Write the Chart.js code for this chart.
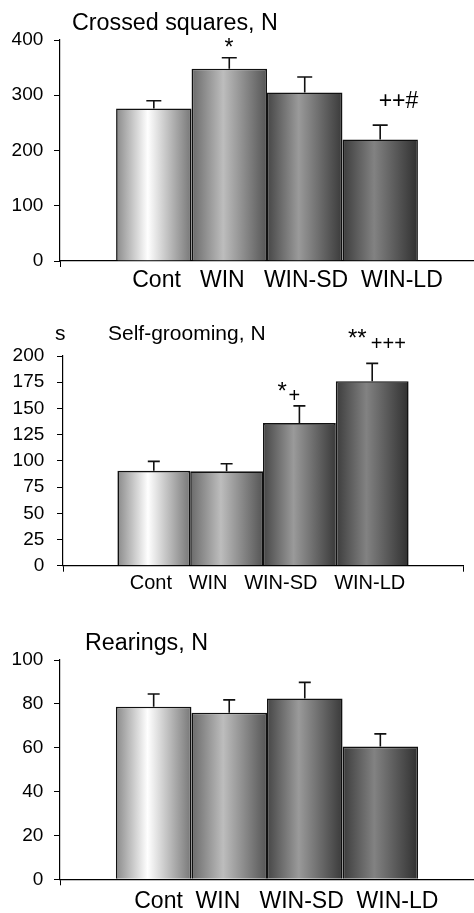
<!DOCTYPE html>
<html>
<head>
<meta charset="utf-8">
<script src="https://cdn.jsdelivr.net/npm/chart.js@4.4.1/dist/chart.umd.min.js"></script>
<style>
  html, body { margin: 0; padding: 0; background: #fff; }
  #wrap { position: relative; width: 474px; height: 913px; overflow: hidden; }
  canvas { position: absolute; left: 0; }
</style>
</head>
<body>
<div id="wrap">
  <canvas id="c1" width="474" height="300" style="top:0px"></canvas>
  <canvas id="c2" width="474" height="310" style="top:300px"></canvas>
  <canvas id="c3" width="474" height="303" style="top:610px"></canvas>
</div>
<script>
var FONT = '"Liberation Sans", Arial, Helvetica, sans-serif';

var groups = ['Cont', 'WIN', 'WIN-SD', 'WIN-LD'];

// crossed squares
var squaresMean = [276, 348, 305, 220];
var squaresErr = [14, 20, 28, 26];
var squaresStars = ['', '*', '', ''];
var squaresPlus = ['', '', '', '++#'];

// self-grooming
var groomMean = [90.5, 90, 136, 176];
var groomErr = [9, 7.3, 16.4, 17];
var groomStars = ['', '', '*', '**'];
var groomPlus = ['', '', '+', '+++'];

// rearings
var rearMean = [78.7, 76, 82.5, 60.5];
var rearErr = [5.8, 5.8, 7.3, 5.8];
var rearStars = ['', '', '', ''];
var rearPlus = ['', '', '', ''];

// left edge, highlight, right edge of each bar's shading
var shades = [
    ['#8a8a8a', '#ffffff', '#777777'],
    ['#6a6a6a', '#bdbdbd', '#555555'],
    ['#464646', '#9a9a9a', '#3a3a3a'],
    ['#3c3c3c', '#828282', '#303030']
];

var panels = [
    {
        id: 'c1', h: 300, title: 'Crossed squares, N', titleX: 72, titleY: 29.5, titleSize: 23.3,
        mean: squaresMean, err: squaresErr, stars: squaresStars, plus: squaresPlus,
        max: 400, step: 100, area: { left: 60, top: 40, right: 474, bottom: 261 }, cp: 0.729,
        yFont: 19, yPad: 10.7, xFont: 23, xPad: 0, xShift: 20.5, gaps: [3, 3, 2],
        cap: 15, starSize: 23, plusSize: 23,
        marks: [null, [-4.8, -3.0, 0, 0], null, [-1.5, -16.9, 0, 0]]
    },
    {
        id: 'c2', h: 310, title: 'Self-grooming, N', titleX: 108, titleY: 40, titleSize: 21,
        unit: 's', unitX: 55,
        mean: groomMean, err: groomErr, stars: groomStars, plus: groomPlus,
        max: 200, step: 25, area: { left: 63, top: 56, right: 463, bottom: 265.7 }, cp: 0.728,
        yFont: 19, yPad: 12.7, xFont: 20, xPad: 0, xShift: 4.5, gaps: [3, 3, 3],
        cap: 12, starSize: 24, plusSize: 20,
        marks: [null, null, [-21.8, -7.1, 3.3, 1.5], [-24.3, -17.5, 4.3, 4.2]]
    },
    {
        id: 'c3', h: 303, title: 'Rearings, N', titleX: 85, titleY: 40, titleSize: 23.3,
        mean: rearMean, err: rearErr, stars: rearStars, plus: rearPlus,
        max: 100, step: 20, area: { left: 60, top: 50, right: 474, bottom: 269.3 }, cp: 0.730,
        yFont: 19, yPad: 10.7, xFont: 23, xPad: 2.2, xShift: 19.3, gaps: [2, 3, 2],
        cap: 12, starSize: 22, plusSize: 22,
        marks: [null, null, null, null]
    }
];

function makeDecor(p) {
    return {
        id: 'decor',
        beforeDatasetsDraw: function(chart) {
            var ctx = chart.ctx;
            chart.data.datasets.forEach(function(ds, i) {
                chart.getDatasetMeta(i).data.forEach(function(bar) {
                    var b = bar.getProps(['x', 'width'], true);
                    var g = ctx.createLinearGradient(b.x - b.width / 2, 0, b.x + b.width / 2, 0);
                    g.addColorStop(0, shades[i][0]);
                    g.addColorStop(0.42, shades[i][1]);
                    g.addColorStop(1, shades[i][2]);
                    bar.options.backgroundColor = g;
                });
            });
        },
        afterDatasetsDraw: function(chart) {
            var ctx = chart.ctx, y = chart.scales.y;
            ctx.save();
            ctx.strokeStyle = '#111';
            ctx.fillStyle = '#000';
            ctx.lineWidth = 1.6;
            p.err.forEach(function(e, i) {
                var bar = chart.getDatasetMeta(i).data[0];
                var top = y.getPixelForValue(p.mean[i] + e);
                ctx.beginPath();
                ctx.moveTo(bar.x, bar.y);
                ctx.lineTo(bar.x, top);
                ctx.moveTo(bar.x - p.cap / 2, top);
                ctx.lineTo(bar.x + p.cap / 2, top);
                ctx.stroke();

                var m = p.marks[i];
                if (!m) return;
                var x0 = bar.x + m[0], base = top + m[1], sw = 0;
                ctx.textAlign = 'left';
                ctx.textBaseline = 'alphabetic';
                if (p.stars[i]) {
                    ctx.font = p.starSize + 'px ' + FONT;
                    ctx.fillText(p.stars[i], x0, base);
                    sw = ctx.measureText(p.stars[i]).width + m[3];
                }
                if (p.plus[i]) {
                    ctx.font = p.plusSize + 'px ' + FONT;
                    ctx.fillText(p.plus[i], x0 + sw, base + m[2]);
                }
            });
            ctx.restore();
        },
        afterDraw: function(chart) {
            var ctx = chart.ctx;
            ctx.save();
            ctx.fillStyle = '#000';
            ctx.textAlign = 'left';
            ctx.textBaseline = 'alphabetic';
            ctx.font = p.titleSize + 'px ' + FONT;
            ctx.fillText(p.title, p.titleX, p.titleY);
            if (p.unit) ctx.fillText(p.unit, p.unitX, p.titleY);
            ctx.restore();
        }
    };
}

panels.forEach(function(p) {
    var label = groups.reduce(function(s, g, i) {
        return i ? s + ' '.repeat(p.gaps[i - 1]) + g : g;
    }, '');

    new Chart(document.getElementById(p.id), {
        type: 'bar',
        data: {
            labels: [label],
            datasets: groups.map(function(g, i) {
                return {
                    label: g,
                    data: [p.mean[i]],
                    backgroundColor: function() { return shades[i][1]; },
                    borderColor: '#111',
                    borderWidth: 1.6,
                    borderSkipped: 'bottom',
                    barPercentage: 1,
                    categoryPercentage: p.cp
                };
            })
        },
        options: {
            responsive: false,
            animation: false,
            events: [],
            layout: { padding: { left: 0, top: p.area.top, right: 474 - p.area.right, bottom: 0 } },
            plugins: {
                legend: { display: false },
                tooltip: { enabled: false },
                title: { display: false }
            },
            scales: {
                x: {
                    offset: true,
                    grid: { drawOnChartArea: false, drawTicks: true, tickLength: 6, color: '#000', offset: true },
                    border: { display: true, color: '#000', width: 1.2 },
                    ticks: {
                        color: '#000', font: { family: FONT, size: p.xFont },
                        padding: p.xPad, labelOffset: p.xShift, maxRotation: 0, autoSkip: false
                    },
                    afterFit: function(s) { s.height = p.h - p.area.bottom; }
                },
                y: {
                    min: 0,
                    max: p.max,
                    ticks: { stepSize: p.step, color: '#000', font: { family: FONT, size: p.yFont }, padding: p.yPad },
                    grid: { drawOnChartArea: false, drawTicks: true, tickLength: 6, color: '#000' },
                    border: { display: true, color: '#000', width: 1.2 },
                    afterFit: function(s) { s.width = p.area.left; }
                }
            }
        },
        plugins: [makeDecor(p)]
    });
});
</script>
</body>
</html>
